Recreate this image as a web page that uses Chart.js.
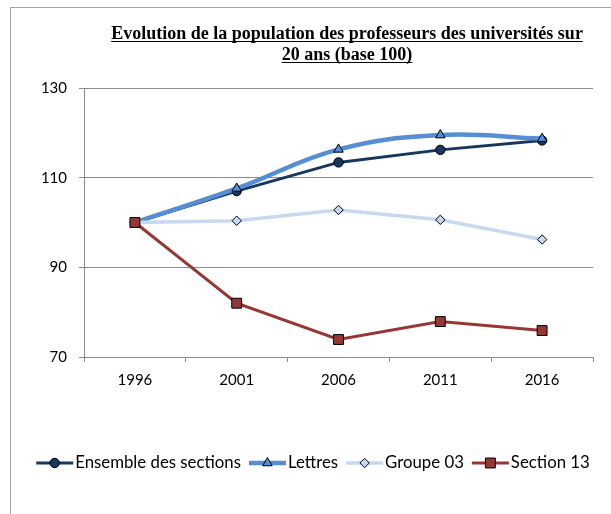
<!DOCTYPE html>
<html>
<head>
<meta charset="utf-8">
<script src="https://cdn.jsdelivr.net/npm/chart.js@4"></script>
<style>
  html, body { margin: 0; padding: 0; background: #fff; overflow: hidden; }
  #frame { position: absolute; left: 10px; top: 7px; width: 720px; height: 620px; border: 1px solid #a6a6a6; }
  #wrap { position: absolute; left: 0; top: 0; width: 611px; height: 514px; }
</style>
</head>
<body>
<div id="frame"></div>
<div id="wrap"><canvas id="chart"></canvas></div>
<script>
const years = ['1996', '2001', '2006', '2011', '2016'];
const ensemble = [100, 107.0, 113.4, 116.2, 118.3];
const lettres = [100, 107.6, 116.3, 119.5, 118.7];
const groupe03 = [100, 100.4, 102.8, 100.6, 96.2];
const section13 = [100, 82.0, 73.9, 77.9, 75.9];
const titleLines = ['Evolution de la population des professeurs des universités sur', '20 ans (base 100)'];

const gridGray = '#8c8c8c';
const labelFont = "Lato, 'Open Sans', sans-serif";

// title drawn by hand: underlined, centred on the whole (cropped) frame
const titlePlugin = {
    id: 'excelTitle',
    afterDraw(chart) {
        const ctx = chart.ctx;
        ctx.save();
        ctx.font = "bold 18px 'Liberation Serif', serif";
        ctx.fillStyle = '#000';
        ctx.strokeStyle = '#000';
        ctx.lineWidth = 1;
        ctx.textAlign = 'center';
        ctx.textBaseline = 'alphabetic';
        const cx = 347;
        titleLines.forEach((line, i) => {
            const y = 39 + i * 21;
            ctx.fillText(line, cx, y);
            const w = ctx.measureText(line).width;
            ctx.beginPath();
            ctx.moveTo(cx - w / 2, y + 2.5);
            ctx.lineTo(cx + w / 2, y + 2.5);
            ctx.stroke();
        });
        ctx.restore();
    }
};

// Excel-style legend: short line with the marker in the middle
const legendPlugin = {
    id: 'excelLegend',
    afterDraw(chart) {
        const ctx = chart.ctx;
        ctx.save();
        ctx.font = '16.8px ' + labelFont;
        ctx.textBaseline = 'middle';
        const lineLen = 37, gap = 2, spacing = 8, y = 463;
        const sets = chart.data.datasets;
        let total = 0;
        sets.forEach((ds, i) => {
            total += lineLen + gap + ctx.measureText(ds.label).width;
            if (i < sets.length - 1) total += spacing;
        });
        let x = 313 - total / 2;
        sets.forEach(ds => {
            ctx.strokeStyle = ds.borderColor;
            ctx.lineWidth = ds.borderWidth;
            ctx.beginPath();
            ctx.moveTo(x, y);
            ctx.lineTo(x + lineLen, y);
            ctx.stroke();
            ctx.fillStyle = ds.pointBackgroundColor;
            ctx.strokeStyle = ds.pointBorderColor;
            ctx.lineWidth = 1;
            Chart.helpers.drawPoint(ctx, {
                pointStyle: ds.pointStyle,
                radius: ds.pointRadius,
                borderWidth: 1,
                rotation: 0
            }, x + lineLen / 2, y);
            x += lineLen + gap;
            ctx.fillStyle = '#000';
            ctx.fillText(ds.label, x, y);
            x += ctx.measureText(ds.label).width + spacing;
        });
        ctx.restore();
    }
};

new Chart(document.getElementById('chart'), {
    type: 'line',
    data: {
        labels: years,
        datasets: [
            {
                label: 'Ensemble des sections',
                data: ensemble,
                borderColor: '#17375e',
                borderWidth: 3,
                pointStyle: 'circle',
                pointRadius: 4.7,
                pointBackgroundColor: '#17375e',
                pointBorderColor: '#000',
                pointBorderWidth: 1,
                tension: 0,
                order: 3
            },
            {
                label: 'Lettres',
                data: lettres,
                borderColor: '#558ed5',
                borderWidth: 4.5,
                pointStyle: 'triangle',
                pointRadius: 5.5,
                pointBackgroundColor: '#558ed5',
                pointBorderColor: '#000',
                pointBorderWidth: 1,
                tension: 0.4,
                order: 2
            },
            {
                label: 'Groupe 03',
                data: groupe03,
                borderColor: '#c6d9f1',
                borderWidth: 3.5,
                pointStyle: 'rectRot',
                pointRadius: 4.7,
                pointBackgroundColor: '#c6d9f1',
                pointBorderColor: '#000',
                pointBorderWidth: 1,
                tension: 0,
                order: 1
            },
            {
                label: 'Section 13',
                data: section13,
                borderColor: '#953735',
                borderWidth: 3,
                pointStyle: 'rect',
                pointRadius: 7,
                pointBackgroundColor: '#953735',
                pointBorderColor: '#000',
                pointBorderWidth: 1,
                tension: 0,
                order: 0
            }
        ]
    },
    options: {
        responsive: true,
        maintainAspectRatio: false,
        animation: false,
        layout: { padding: { left: 0, right: 18, top: 88, bottom: 0 } },
        scales: {
            x: {
                offset: true,
                afterFit: s => { s.height = 157; },
                grid: { offset: true, drawOnChartArea: false, drawTicks: true, tickLength: 5, color: gridGray },
                border: { color: gridGray, width: 1 },
                ticks: { color: '#000', padding: 9, font: { family: labelFont, size: 15 }, maxRotation: 0 }
            },
            y: {
                min: 70,
                max: 130,
                afterFit: s => { s.width = 84; },
                grid: { color: gridGray, tickLength: 5, lineWidth: 1 },
                border: { color: gridGray, width: 1 },
                ticks: { stepSize: 20, color: '#000', padding: 12, font: { family: labelFont, size: 15 } }
            }
        },
        plugins: {
            legend: { display: false },
            title: { display: false },
            tooltip: { enabled: false }
        }
    },
    plugins: [titlePlugin, legendPlugin]
});
</script>
</body>
</html>
